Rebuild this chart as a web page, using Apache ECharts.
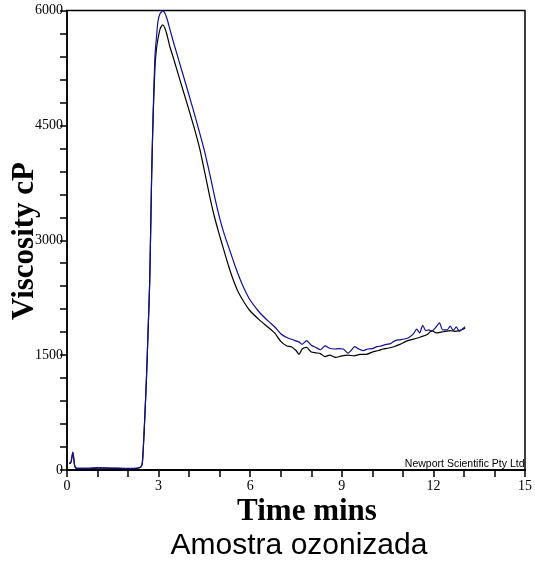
<!DOCTYPE html>
<html><head><meta charset="utf-8">
<script src="https://cdn.jsdelivr.net/npm/echarts@6/dist/echarts.min.js"></script>
<style>html,body{margin:0;padding:0;background:#fff}#c{width:535px;height:569px}</style>
</head><body><div id="c"></div>
<script>
// Time (min) and viscosity (cP) readings
const blueTimes = [0.07,0.12,0.19,0.25,0.3,0.6,1.0,1.5,2.0,2.3,2.42,2.47,2.52,2.56,2.6,2.65,2.71,2.77,2.82,2.88,2.93,2.98,3.05,3.14,3.22,3.3,3.4,3.55,3.75,4.0,4.25,4.5,4.7,4.85,5.0,5.15,5.33,5.5,5.65,5.8,5.98,
  6.3,6.6,6.8,7.0,7.2,7.4,7.6,7.7,7.85,8.0,8.15,8.3,8.45,8.6,8.75,8.9,9.05,9.2,9.3,9.42,9.55,9.7,9.85,10.0,10.15,10.3,10.45,10.6,10.75,10.9,11.05,11.2,11.35,11.45,11.55,11.65,11.75,11.85,11.95,12.05,12.2,12.3,12.45,12.55,12.65,12.75,12.85,12.95,13.04];
const blueVisc = [90,90,235,60,25,20,30,25,20,25,40,100,450,800,1170,1750,2477,3800,4650,5400,5650,5860,5960,5995,5955,5860,5710,5500,5230,4890,4540,4170,3820,3540,3290,3080,2870,2670,2510,2370,2230,
  2060,1940,1870,1780,1730,1700,1670,1640,1690,1630,1600,1570,1620,1590,1580,1585,1580,1525,1560,1610,1580,1560,1580,1585,1610,1620,1640,1650,1690,1700,1710,1730,1780,1840,1790,1890,1820,1830,1810,1850,1920,1830,1830,1880,1820,1870,1810,1840,1870];

const blackTimes = [0.07,0.12,0.19,0.25,0.3,0.6,1.0,1.5,2.0,2.3,2.42,2.47,2.52,2.56,2.6,2.65,2.71,2.77,2.82,2.88,2.93,2.98,3.05,3.13,3.2,3.27,3.36,3.5,3.7,3.92,4.15,4.35,4.52,4.67,4.82,4.97,5.13,5.28,5.42,5.6,5.8,5.98,
  6.3,6.6,6.8,7.0,7.2,7.35,7.5,7.6,7.7,7.85,8.0,8.15,8.3,8.45,8.6,8.8,9.0,9.2,9.4,9.6,9.8,10.0,10.2,10.35,10.5,10.7,10.9,11.1,11.25,11.45,11.6,11.8,11.95,12.1,12.25,12.4,12.55,12.7,12.85,13.04];
const blackVisc = [90,90,230,60,25,20,25,22,18,22,40,100,450,800,1170,1750,2477,3800,4600,5250,5500,5630,5760,5811,5775,5690,5540,5360,5090,4800,4490,4190,3870,3580,3320,3100,2880,2680,2510,2330,2190,2086,
  1960,1860,1790,1680,1620,1610,1560,1510,1580,1600,1540,1530,1520,1480,1500,1470,1490,1500,1490,1510,1510,1540,1560,1580,1590,1610,1640,1680,1700,1720,1740,1770,1820,1790,1800,1810,1820,1810,1820,1850];

const xTicks = {min:0, max:15, step:3};
const yTicks = {min:0, max:6000, step:1500};

function pairs(t, v){ return t.map((x,i)=>[x, v[i]]); }

const chart = echarts.init(document.getElementById('c'), null, {renderer:'canvas'});
const serif = 'Liberation Serif, Times New Roman, serif';
const sans = 'Liberation Sans, Arial, sans-serif';
chart.setOption({
  animation:false,
  backgroundColor:'#fff',
  grid:{left:67, right:9, top:10.5, bottom:99, show:true, borderColor:'#000', borderWidth:1.5, backgroundColor:'transparent'},
  xAxis:{type:'value', min:xTicks.min, max:xTicks.max, interval:xTicks.step,
    axisLine:{show:true, onZero:false, lineStyle:{color:'#000', width:2}},
    axisTick:{show:true, inside:false, length:7, lineStyle:{color:'#000', width:1.5}},
    minorTick:{show:true, splitNumber:3, length:7, lineStyle:{color:'#000', width:1.5}},
    splitLine:{show:false}, minorSplitLine:{show:false},
    axisLabel:{color:'#000', fontFamily:serif, fontSize:14, margin:9, formatter:v=>String(v)}},
  yAxis:{type:'value', min:yTicks.min, max:yTicks.max, interval:yTicks.step,
    axisLine:{show:true, onZero:false, lineStyle:{color:'#000', width:1.5}},
    axisTick:{show:true, inside:false, length:7, lineStyle:{color:'#000', width:1.5}},
    minorTick:{show:true, splitNumber:5, length:7, lineStyle:{color:'#000', width:1.5}},
    splitLine:{show:false}, minorSplitLine:{show:false},
    axisLabel:{color:'#000', fontFamily:serif, fontSize:14, margin:4, formatter:v=>String(v)}},
  series:[
    {type:'line', data:pairs(blackTimes, blackVisc), showSymbol:false, symbol:'none', smooth:0.2, lineStyle:{color:'#000', width:1.2}, z:2},
    {type:'line', data:pairs(blueTimes, blueVisc), showSymbol:false, symbol:'none', smooth:0.2, lineStyle:{color:'#10108f', width:1.2}, z:3}
  ],
  graphic:[
    {type:'text', x:25, y:241, rotation:Math.PI/2, style:{text:'Viscosity cP', font:'bold 31px '+serif, fill:'#000', textAlign:'center', textVerticalAlign:'middle'}},
    {type:'text', x:307, y:512, style:{text:'Time mins', font:'bold 31px '+serif, fill:'#000', textAlign:'center', textVerticalAlign:'middle'}},
    {type:'text', x:299, y:546, style:{text:'Amostra ozonizada', font:'30px '+sans, fill:'#000', textAlign:'center', textVerticalAlign:'middle'}},
    {type:'text', x:524.5, y:464.5, style:{text:'Newport Scientific Pty Ltd', font:'10.5px '+sans, fill:'#000', textAlign:'right', textVerticalAlign:'middle'}}
  ]
});
</script></body></html>
